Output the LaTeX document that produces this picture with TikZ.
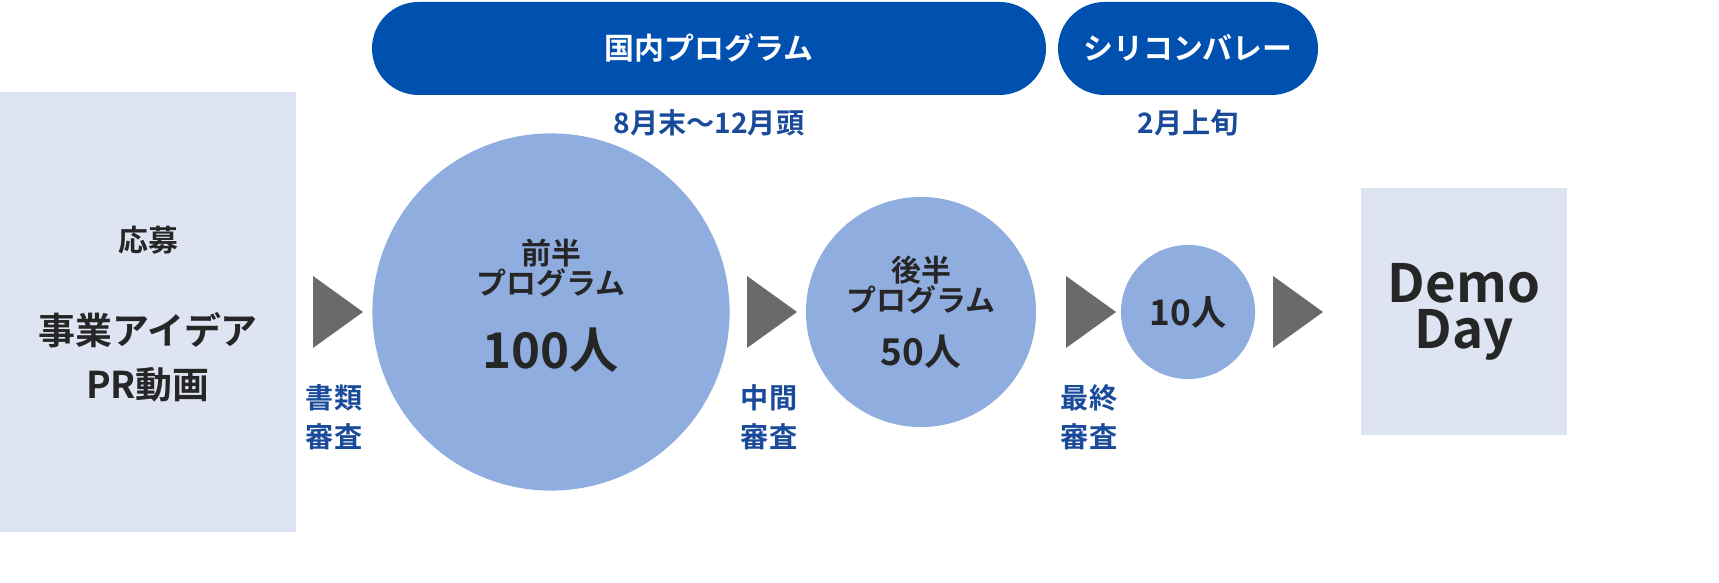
\documentclass[tikz,border=0pt]{standalone}
\usepackage{fontspec}
\setmainfont{Noto Sans CJK JP}[BoldFont={* Bold}]
\definecolor{paleblue}{HTML}{DFE4F2}
\definecolor{navy}{HTML}{0050B0}
\definecolor{circ}{HTML}{8FADDF}
\definecolor{labelblue}{HTML}{1A4A9A}
\definecolor{arrowgray}{HTML}{6B6969}
\tikzset{
	box/.style={fill=paleblue, draw=none},
	pill/.style={fill=navy, draw=none, rounded corners=0.465cm, text=white, font=\bfseries\fontsize{8.5}{10}\selectfont},
	stage/.style={circle, fill=circ, draw=none, inner sep=0pt},
	txt/.style={font=\bfseries\fontsize{#1}{#1}\selectfont, text=black!85, align=center},
	lbl/.style={font=\bfseries\fontsize{8}{11}\selectfont, text=labelblue, align=center},
	gostep/.style={fill=arrowgray}
}
\begin{document}
\begin{tikzpicture}[x=0.01cm, y=-0.01cm]
	\useasboundingbox (0,0) rectangle (1719,583);
	% Kasten
	\fill [box] (0,92) rectangle (296,532);
	\fill [box] (1361,188) rectangle (1567,435);
	\node [txt=8.5] (apply) at (148,240) {応募};
	\node [txt=10.5] (idea) at (148,330) {事業アイデア};
	\node [txt=10.5] (video) at (148,385) {PR動画};
	\node [txt=15] (demo) at (1464,312) {Demo\\[-2pt]Day};
	% Pillen
	\fill [pill] (372,2) rectangle (1046,95);
	\fill [pill] (1058,2) rectangle (1318,95);
	\node [pill, fill=none] (domestic) at (709,48) {国内プログラム};
	\node [pill, fill=none] (valley) at (1188,48) {シリコンバレー};
	\node [lbl] (period1) at (709,123) {8月末〜12月頭};
	\node [lbl] (period2) at (1188,123) {2月上旬};
	% Kreise
	\node [stage, minimum size=3.57cm] (first) at (551,312) {};
	\node [stage, minimum size=2.3cm] (second) at (921,312) {};
	\node [stage, minimum size=1.34cm] (final) at (1188,312) {};
	\node [txt=8.5] (firsttxt) at (551,268) {前半\\プログラム};
	\node [txt=14] (firstnum) at (551,350) {100人};
	\node [txt=8.5] (secondtxt) at (921,285) {後半\\プログラム};
	\node [txt=10.5] (secondnum) at (921,352) {50人};
	\node [txt=10] (finalnum) at (1188,312) {10人};
	% Pfeile
	\foreach \x in {313,747,1066,1273}
		\fill [gostep] (\x,276) -- (\x,348) -- (\x+50,312) -- cycle;
	% Labels unten
	\node [lbl] (review1) at (334,417) {書類\\審査};
	\node [lbl] (review2) at (769,417) {中間\\審査};
	\node [lbl] (review3) at (1089,417) {最終\\審査};
\end{tikzpicture}
\end{document}
